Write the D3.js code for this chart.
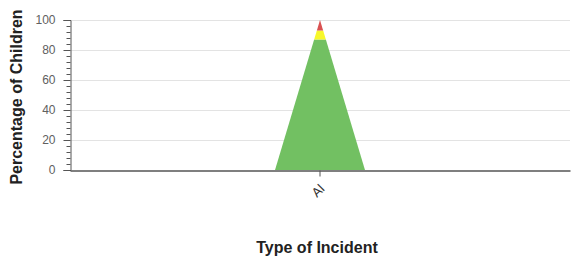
<!DOCTYPE html>
<html>
<head>
<meta charset="utf-8">
<script src="https://cdn.jsdelivr.net/npm/d3@7"></script>
<style>
  body { margin: 0; background: #fff; }
  svg { display: block; font-family: "Liberation Sans", Arial, sans-serif; }
</style>
</head>
<body>
<div id="chart"></div>
<script>
const categories = ['Al'];
const greenValues = [87];
const yellowValues = [6];
const redValues = [7];
const yTicks = [0, 20, 40, 60, 80, 100];

const width = 571;
const height = 259;
const margin = { top: 20, right: 1, bottom: 89, left: 70 };

let svg = d3.select('#chart').append('svg')
  .attr('width', width)
  .attr('height', height);

let x = d3.scaleBand()
  .domain(categories)
  .range([margin.left, width - margin.right])
  .padding(0.695);

let y = d3.scaleLinear()
  .domain([0, 100])
  .range([height - margin.bottom, margin.top]);

// gridlines
svg.append('g')
  .selectAll('line')
  .data(yTicks.filter(d => d > 0))
  .enter()
  .append('line')
  .attr('x1', margin.left)
  .attr('x2', width - margin.right)
  .attr('y1', d => y(d) + 0.5)
  .attr('y2', d => y(d) + 0.5)
  .attr('stroke', '#e3e3e3')
  .attr('stroke-width', 1);

// stacked segments of a triangle column
let series = [
  { name: 'green', values: greenValues, color: '#72c062' },
  { name: 'yellow', values: yellowValues, color: '#f7f72a' },
  { name: 'red', values: redValues, color: '#d95252' }
];

categories.forEach((cat, i) => {
  let total = d3.sum(series, s => s.values[i]);
  let cx = x(cat) + x.bandwidth() / 2;
  let half = x.bandwidth() / 2;
  let halfAt = v => half * (1 - v / total);
  let base = 0;
  series.forEach(s => {
    let v0 = base;
    let v1 = base + s.values[i];
    let pts = [
      [cx - halfAt(v0), y(v0)],
      [cx + halfAt(v0), y(v0)],
      [cx + halfAt(v1), y(v1)],
      [cx - halfAt(v1), y(v1)]
    ];
    svg.append('path')
      .attr('d', d3.line()(pts) + 'Z')
      .attr('fill', s.color);
    base = v1;
  });
});

// y axis
let yAxis = d3.axisLeft(y)
  .tickValues(yTicks)
  .tickSize(7)
  .tickPadding(8);

let yAxisG = svg.append('g')
  .attr('transform', `translate(${margin.left + 0.5}, 0)`)
  .call(yAxis);

yAxisG.select('.domain').attr('stroke', '#555');
yAxisG.selectAll('.tick line').attr('stroke', '#555');
yAxisG.selectAll('.tick text')
  .attr('fill', '#606060')
  .style('font-size', '12px');

// minor ticks
yAxisG.append('g')
  .selectAll('line')
  .data(d3.range(0, 101, 4).filter(d => d % 20 !== 0))
  .enter()
  .append('line')
  .attr('x1', -4)
  .attr('x2', 0)
  .attr('y1', d => y(d) + 0.5)
  .attr('y2', d => y(d) + 0.5)
  .attr('stroke', '#555');

// x axis
let xAxis = d3.axisBottom(x)
  .tickSize(6)
  .tickPadding(6)
  .tickSizeOuter(0);

let xAxisG = svg.append('g')
  .attr('transform', `translate(0, ${y(0) + 0.5})`)
  .call(xAxis);

xAxisG.select('.domain').attr('stroke', '#555').attr('stroke-width', 1.5);
xAxisG.selectAll('.tick line').attr('stroke', '#555');
xAxisG.selectAll('.tick text')
  .attr('fill', '#333')
  .style('font-size', '13px')
  .attr('text-anchor', 'end')
  .attr('dy', '0.35em')
  .attr('transform', 'translate(2, 16) rotate(-45)')
  .attr('y', 0)
  .attr('x', 0);

// axis titles
svg.append('text')
  .attr('x', 317)
  .attr('y', 253)
  .attr('text-anchor', 'middle')
  .attr('fill', '#222')
  .style('font-size', '16px')
  .style('font-weight', 'bold')
  .text('Type of Incident');

svg.append('text')
  .attr('transform', `translate(22, 97) rotate(-90)`)
  .attr('text-anchor', 'middle')
  .attr('fill', '#222')
  .style('font-size', '16px')
  .style('font-weight', 'bold')
  .text('Percentage of Children');
</script>
</body>
</html>
